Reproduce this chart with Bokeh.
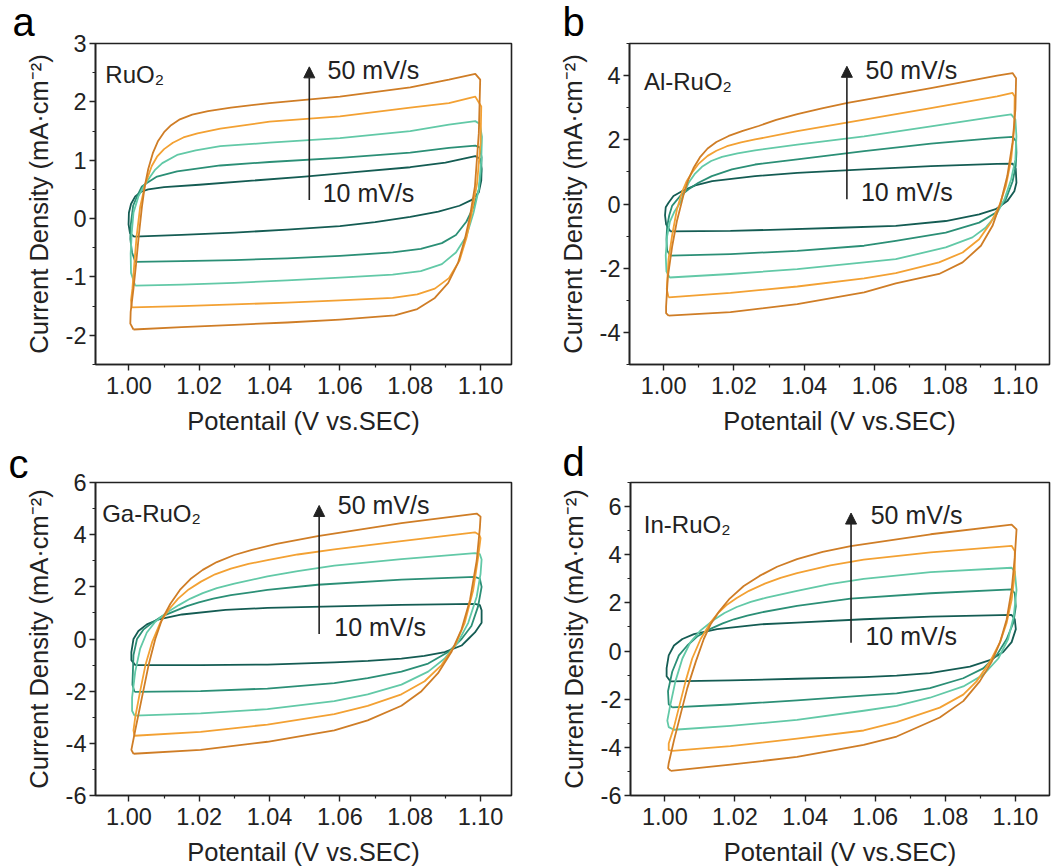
from bokeh.plotting import figure
from bokeh.layouts import column, row
from bokeh.models import Range1d, FixedTicker, Arrow, NormalHead, Label, ColumnDataSource
from bokeh.embed import file_html
from bokeh.resources import INLINE

FONT = "Liberation Sans"
INK = "#222222"

# ---------------- data ----------------
rates = ["10 mV/s", "20 mV/s", "30 mV/s", "40 mV/s", "50 mV/s"]
rate_colors = ["#145c53", "#2b8f76", "#62c9a7", "#f3a133", "#cf7d26"]

x_ticks = [1.00, 1.02, 1.04, 1.06, 1.08, 1.10]
x_tick_labels = ["1.00", "1.02", "1.04", "1.06", "1.08", "1.10"]
x_minor = [1.01, 1.03, 1.05, 1.07, 1.09]

a_yticks = [-2, -1, 0, 1, 2, 3]
a_yminor = [-2.5, -1.5, -0.5, 0.5, 1.5, 2.5]
b_yticks = [-4, -2, 0, 2, 4]
b_yminor = [-5, -3, -1, 1, 3, 5]
c_yticks = [-6, -4, -2, 0, 2, 4, 6]
c_yminor = [-5, -3, -1, 1, 3, 5]
d_yticks = [-6, -4, -2, 0, 2, 4, 6]
d_yminor = [-5, -3, -1, 1, 3, 5, 7]

# (potential V, current density mA/cm2), one closed loop per scan rate
a10 = [(1.0015,-0.31),(1.0003,-0.25),(0.9999,-0.10),(1.0000,0.10),(1.0006,0.25),(1.0018,0.38),(1.0035,0.46),(1.0055,0.50),(1.0100,0.54),(1.0200,0.58),(1.0350,0.65),(1.0500,0.72),(1.0650,0.80),(1.0800,0.88),(1.0900,0.96),(1.0985,1.07),(1.0998,1.03),(1.1003,0.85),(1.1002,0.65),(1.0995,0.45),(1.0975,0.32),(1.0940,0.22),(1.0880,0.12),(1.0800,0.03),(1.0700,-0.06),(1.0600,-0.13),(1.0450,-0.19),(1.0300,-0.24),(1.0150,-0.28),(1.0015,-0.31)]
a20 = [(1.0018,-0.74),(1.0009,-0.58),(1.0004,-0.35),(1.0005,-0.12),(1.0012,0.22),(1.0023,0.38),(1.0037,0.55),(1.0051,0.61),(1.0080,0.72),(1.0137,0.81),(1.0260,0.91),(1.0400,0.97),(1.0600,1.04),(1.0800,1.13),(1.0910,1.21),(1.0985,1.25),(1.0998,1.22),(1.1003,1.05),(1.1002,0.80),(1.0995,0.50),(1.0980,0.20),(1.0960,-0.05),(1.0930,-0.28),(1.0890,-0.42),(1.0830,-0.52),(1.0750,-0.58),(1.0600,-0.64),(1.0450,-0.68),(1.0300,-0.71),(1.0150,-0.73),(1.0018,-0.74)]
a30 = [(1.0018,-1.15),(1.0006,-0.93),(1.0005,-0.60),(1.0008,-0.25),(1.0013,0.10),(1.0027,0.38),(1.0042,0.55),(1.0061,0.72),(1.0075,0.84),(1.0095,0.95),(1.0137,1.09),(1.0190,1.17),(1.0260,1.24),(1.0400,1.30),(1.0600,1.38),(1.0800,1.50),(1.0910,1.61),(1.0985,1.67),(1.0998,1.62),(1.1004,1.40),(1.1002,1.00),(1.0995,0.50),(1.0980,0.10),(1.0960,-0.30),(1.0930,-0.58),(1.0890,-0.78),(1.0830,-0.90),(1.0750,-0.96),(1.0600,-1.01),(1.0450,-1.06),(1.0300,-1.10),(1.0150,-1.13),(1.0018,-1.15)]
a40 = [(1.0008,-1.52),(1.0006,-1.40),(1.0010,-1.20),(1.0015,-0.80),(1.0022,-0.30),(1.0032,0.20),(1.0047,0.60),(1.0065,0.90),(1.0080,1.06),(1.0100,1.19),(1.0125,1.30),(1.0155,1.39),(1.0195,1.46),(1.0260,1.54),(1.0400,1.66),(1.0600,1.75),(1.0800,1.90),(1.0910,1.98),(1.0985,2.09),(1.1002,1.92),(1.1000,1.30),(1.0990,0.60),(1.0975,0.10),(1.0960,-0.33),(1.0940,-0.72),(1.0910,-1.02),(1.0870,-1.20),(1.0820,-1.30),(1.0750,-1.36),(1.0600,-1.40),(1.0450,-1.44),(1.0300,-1.47),(1.0150,-1.50),(1.0008,-1.52)]
a50 = [(1.0013,-1.90),(1.0004,-1.80),(1.0005,-1.60),(1.0013,-1.20),(1.0020,-0.80),(1.0028,-0.30),(1.0037,0.20),(1.0045,0.55),(1.0055,0.85),(1.0068,1.12),(1.0083,1.33),(1.0100,1.48),(1.0120,1.60),(1.0145,1.70),(1.0180,1.78),(1.0225,1.84),(1.0290,1.90),(1.0400,1.98),(1.0600,2.09),(1.0800,2.25),(1.0910,2.38),(1.0985,2.48),(1.0999,2.38),(1.0995,1.46),(1.0984,0.55),(1.0970,0.04),(1.0955,-0.36),(1.0936,-0.76),(1.0908,-1.10),(1.0870,-1.36),(1.0820,-1.55),(1.0756,-1.66),(1.0600,-1.73),(1.0450,-1.78),(1.0300,-1.82),(1.0150,-1.86),(1.0013,-1.90)]

b10 = [(1.0019,-0.85),(1.0007,-0.63),(1.0004,-0.35),(1.0006,-0.10),(1.0014,0.04),(1.0028,0.25),(1.0052,0.40),(1.0090,0.58),(1.0138,0.71),(1.0260,0.87),(1.0380,0.97),(1.0570,1.08),(1.0760,1.18),(1.0948,1.25),(1.0992,1.26),(1.1001,1.10),(1.1003,0.66),(1.0997,0.40),(1.0977,0.09),(1.0944,-0.16),(1.0897,-0.32),(1.0802,-0.53),(1.0660,-0.68),(1.0500,-0.74),(1.0350,-0.79),(1.0190,-0.84),(1.0019,-0.85)]
b20 = [(1.0019,-1.61),(1.0010,-1.45),(1.0008,-1.10),(1.0010,-0.70),(1.0016,-0.35),(1.0024,-0.06),(1.0047,0.25),(1.0071,0.46),(1.0099,0.66),(1.0137,0.87),(1.0194,1.08),(1.0260,1.23),(1.0380,1.39),(1.0570,1.65),(1.0760,1.88),(1.0948,2.06),(1.0992,2.09),(1.1002,1.96),(1.1003,1.60),(1.1001,1.18),(1.0992,0.70),(1.0973,0.15),(1.0944,-0.27),(1.0897,-0.58),(1.0802,-0.89),(1.0660,-1.15),(1.0570,-1.30),(1.0380,-1.46),(1.0190,-1.56),(1.0019,-1.61)]
b30 = [(1.0017,-2.29),(1.0008,-2.10),(1.0006,-1.60),(1.0010,-1.00),(1.0018,-0.55),(1.0030,-0.25),(1.0047,0.04),(1.0058,0.35),(1.0071,0.66),(1.0088,0.93),(1.0109,1.16),(1.0135,1.34),(1.0166,1.47),(1.0210,1.58),(1.0260,1.67),(1.0380,1.85),(1.0570,2.11),(1.0760,2.42),(1.0948,2.73),(1.0988,2.79),(1.1000,2.63),(1.1003,2.11),(1.1000,1.39),(1.0988,0.77),(1.0969,0.15),(1.0944,-0.37),(1.0916,-0.73),(1.0878,-1.04),(1.0802,-1.35),(1.0660,-1.72),(1.0570,-1.82),(1.0380,-2.03),(1.0190,-2.18),(1.0017,-2.29)]
b40 = [(1.0014,-2.91),(1.0009,-2.65),(1.0014,-1.72),(1.0024,-0.99),(1.0038,-0.16),(1.0052,0.36),(1.0065,0.70),(1.0081,0.98),(1.0100,1.26),(1.0125,1.50),(1.0150,1.66),(1.0180,1.80),(1.0220,1.92),(1.0260,2.01),(1.0380,2.27),(1.0570,2.63),(1.0760,2.99),(1.0948,3.35),(1.0992,3.46),(1.0998,3.35),(1.0997,2.42),(1.0988,1.39),(1.0973,0.56),(1.0954,-0.06),(1.0930,-0.58),(1.0897,-1.10),(1.0850,-1.51),(1.0783,-1.82),(1.0660,-2.15),(1.0570,-2.32),(1.0380,-2.57),(1.0190,-2.77),(1.0014,-2.91)]
b50 = [(1.0014,-3.48),(1.0007,-3.40),(1.0007,-3.20),(1.0012,-2.27),(1.0024,-1.34),(1.0038,-0.52),(1.0057,0.30),(1.0070,0.75),(1.0085,1.12),(1.0103,1.45),(1.0125,1.73),(1.0150,1.93),(1.0185,2.12),(1.0225,2.28),(1.0270,2.43),(1.0320,2.62),(1.0380,2.80),(1.0450,2.98),(1.0523,3.15),(1.0760,3.61),(1.0948,4.00),(1.0992,4.08),(1.1002,3.92),(1.1000,2.94),(1.0992,1.91),(1.0977,0.87),(1.0958,0.04),(1.0935,-0.68),(1.0902,-1.30),(1.0850,-1.82),(1.0783,-2.18),(1.0660,-2.47),(1.0570,-2.75),(1.0380,-3.12),(1.0190,-3.37),(1.0014,-3.48)]

c10 = [(1.0018,-1.00),(1.0007,-0.81),(1.0007,-0.50),(1.0013,0.00),(1.0027,0.31),(1.0051,0.56),(1.0085,0.75),(1.0151,0.94),(1.0275,1.12),(1.0394,1.19),(1.0584,1.25),(1.0775,1.31),(1.0984,1.35),(1.0998,1.30),(1.1003,1.10),(1.1003,0.62),(1.0984,0.25),(1.0965,0.00),(1.0946,-0.25),(1.0898,-0.50),(1.0840,-0.65),(1.0775,-0.75),(1.0680,-0.84),(1.0584,-0.90),(1.0394,-0.98),(1.0204,-1.00),(1.0018,-1.00)]
c20 = [(1.0016,-2.03),(1.0010,-1.75),(1.0013,-0.62),(1.0023,0.00),(1.0042,0.37),(1.0066,0.62),(1.0094,0.87),(1.0132,1.08),(1.0165,1.26),(1.0199,1.40),(1.0240,1.55),(1.0290,1.68),(1.0394,1.88),(1.0537,2.08),(1.0775,2.28),(1.0984,2.38),(1.0998,2.31),(1.1003,2.00),(1.0993,1.25),(1.0974,0.50),(1.0946,0.00),(1.0908,-0.50),(1.0851,-0.94),(1.0775,-1.25),(1.0679,-1.50),(1.0584,-1.69),(1.0394,-1.90),(1.0204,-2.00),(1.0016,-2.03)]
c30 = [(1.0016,-2.94),(1.0009,-2.75),(1.0009,-2.25),(1.0018,-1.25),(1.0032,-0.37),(1.0051,0.25),(1.0075,0.66),(1.0104,0.98),(1.0142,1.30),(1.0175,1.55),(1.0210,1.76),(1.0250,1.95),(1.0300,2.12),(1.0394,2.40),(1.0480,2.60),(1.0584,2.81),(1.0775,3.06),(1.0984,3.29),(1.0998,3.25),(1.1003,3.05),(1.1000,2.50),(1.0989,1.62),(1.0965,0.62),(1.0936,-0.12),(1.0898,-0.75),(1.0851,-1.25),(1.0775,-1.75),(1.0679,-2.12),(1.0584,-2.38),(1.0394,-2.69),(1.0204,-2.85),(1.0016,-2.94)]
c40 = [(1.0016,-3.71),(1.0013,-3.50),(1.0018,-3.00),(1.0032,-2.00),(1.0047,-1.00),(1.0066,-0.12),(1.0089,0.62),(1.0113,1.12),(1.0140,1.55),(1.0170,1.90),(1.0205,2.20),(1.0245,2.48),(1.0290,2.70),(1.0340,2.88),(1.0394,3.02),(1.0480,3.24),(1.0584,3.44),(1.0775,3.75),(1.0984,4.09),(1.0996,4.00),(1.1000,3.87),(1.0993,3.12),(1.0979,1.87),(1.0955,0.62),(1.0927,-0.25),(1.0889,-1.00),(1.0841,-1.62),(1.0775,-2.12),(1.0679,-2.56),(1.0584,-2.88),(1.0394,-3.28),(1.0204,-3.56),(1.0016,-3.71)]
c50 = [(1.0013,-4.40),(1.0007,-4.25),(1.0018,-3.50),(1.0037,-2.25),(1.0056,-1.00),(1.0075,0.00),(1.0094,0.75),(1.0118,1.35),(1.0145,1.88),(1.0175,2.30),(1.0210,2.65),(1.0250,2.95),(1.0300,3.22),(1.0350,3.42),(1.0420,3.65),(1.0537,3.94),(1.0775,4.44),(1.0989,4.81),(1.1000,4.69),(1.0998,4.25),(1.0989,3.00),(1.0970,1.50),(1.0946,0.37),(1.0917,-0.50),(1.0879,-1.31),(1.0832,-2.00),(1.0775,-2.56),(1.0679,-3.12),(1.0584,-3.50),(1.0394,-3.94),(1.0204,-4.25),(1.0013,-4.40)]

d10 = [(1.0016,-1.26),(1.0005,-1.05),(1.0005,-0.71),(1.0011,-0.18),(1.0026,0.23),(1.0050,0.50),(1.0083,0.70),(1.0149,0.91),(1.0273,1.11),(1.0377,1.18),(1.0567,1.32),(1.0758,1.43),(1.0989,1.50),(1.0998,1.32),(1.1001,0.91),(1.0989,0.37),(1.0965,-0.04),(1.0927,-0.38),(1.0870,-0.65),(1.0756,-0.92),(1.0661,-1.02),(1.0567,-1.08),(1.0377,-1.15),(1.0187,-1.22),(1.0016,-1.26)]
d20 = [(1.0021,-2.34),(1.0011,-2.21),(1.0009,-1.67),(1.0021,-0.86),(1.0040,-0.18),(1.0064,0.23),(1.0092,0.60),(1.0130,0.92),(1.0165,1.15),(1.0197,1.32),(1.0235,1.47),(1.0273,1.60),(1.0377,1.88),(1.0530,2.18),(1.0758,2.40),(1.0989,2.56),(1.0998,2.40),(1.1001,1.86),(1.0994,1.18),(1.0975,0.50),(1.0946,-0.18),(1.0908,-0.72),(1.0851,-1.13),(1.0756,-1.54),(1.0661,-1.76),(1.0567,-1.85),(1.0377,-2.05),(1.0187,-2.22),(1.0021,-2.34)]
d30 = [(1.0026,-3.27),(1.0011,-3.16),(1.0007,-2.89),(1.0014,-2.35),(1.0030,-1.26),(1.0050,-0.31),(1.0073,0.37),(1.0102,0.86),(1.0140,1.30),(1.0170,1.58),(1.0205,1.83),(1.0245,2.04),(1.0290,2.22),(1.0377,2.50),(1.0470,2.78),(1.0567,3.00),(1.0758,3.28),(1.0989,3.46),(1.0998,3.30),(1.1003,2.54),(1.0995,1.45),(1.0979,0.50),(1.0951,-0.31),(1.0908,-0.99),(1.0851,-1.47),(1.0756,-1.94),(1.0661,-2.28),(1.0567,-2.48),(1.0377,-2.86),(1.0187,-3.11),(1.0026,-3.27)]
d40 = [(1.0021,-4.15),(1.0011,-4.11),(1.0011,-3.84),(1.0026,-3.16),(1.0040,-2.35),(1.0059,-1.26),(1.0078,-0.31),(1.0102,0.50),(1.0130,1.18),(1.0150,1.55),(1.0175,1.90),(1.0205,2.20),(1.0240,2.50),(1.0285,2.80),(1.0330,3.04),(1.0377,3.24),(1.0472,3.56),(1.0567,3.80),(1.0758,4.10),(1.0989,4.37),(1.0998,4.15),(1.0998,3.22),(1.0989,2.13),(1.0975,1.18),(1.0956,0.37),(1.0927,-0.45),(1.0889,-1.26),(1.0851,-1.81),(1.0784,-2.35),(1.0661,-2.95),(1.0567,-3.30),(1.0377,-3.64),(1.0187,-3.95),(1.0021,-4.15)]
d50 = [(1.0017,-4.98),(1.0009,-4.86),(1.0011,-4.66),(1.0026,-3.71),(1.0045,-2.62),(1.0064,-1.54),(1.0088,-0.45),(1.0111,0.50),(1.0130,1.10),(1.0155,1.65),(1.0185,2.18),(1.0225,2.70),(1.0270,3.12),(1.0320,3.50),(1.0377,3.82),(1.0450,4.12),(1.0530,4.36),(1.0758,4.85),(1.0989,5.25),(1.1003,5.05),(1.0998,3.89),(1.0989,2.54),(1.0975,1.32),(1.0956,0.37),(1.0932,-0.45),(1.0898,-1.26),(1.0851,-2.08),(1.0784,-2.76),(1.0661,-3.55),(1.0567,-3.90),(1.0377,-4.40),(1.0187,-4.72),(1.0017,-4.98)]

x_label = "Potentail (V vs.SEC)"
y_label = "Current Density (mA\u00b7cm\u207b\u00b2)"


def panel(curves, xlim, ylim, yticks, yminor, size, borders,
          letter, letter_shift, letter_standoff, name, name_xy, arrow, t50_xy, t10_xy):
    w, h = size
    bl, br, bt, bb = borders
    p = figure(width=w, height=h, output_backend="svg", toolbar_location=None,
               x_range=Range1d(*xlim), y_range=Range1d(*ylim),
               min_border_left=bl, min_border_right=br,
               min_border_top=bt, min_border_bottom=bb)
    p.xgrid.visible = False
    p.ygrid.visible = False
    p.background_fill_color = "white"
    p.border_fill_color = "white"
    p.outline_line_color = INK
    p.outline_line_width = 1.6

    p.title.text = letter
    p.title.align = "left"
    p.title.vertical_align = "top"
    p.title.offset = letter_shift
    p.title.standoff = letter_standoff
    p.title.text_font = FONT
    p.title.text_font_size = "40px"
    p.title.text_font_style = "normal"
    p.title.text_color = "black"

    for ax in (p.xaxis[0], p.yaxis[0]):
        ax.axis_line_color = INK
        ax.axis_line_width = 1.6
        ax.major_tick_line_color = INK
        ax.minor_tick_line_color = INK
        ax.major_tick_line_width = 1.4
        ax.minor_tick_line_width = 1.2
        ax.major_tick_in = 0
        ax.major_tick_out = 6
        ax.minor_tick_in = 0
        ax.minor_tick_out = 3
        ax.major_label_text_font = FONT
        ax.major_label_text_font_size = "23.5px"
        ax.major_label_text_color = INK
        ax.axis_label_text_font = FONT
        ax.axis_label_text_font_size = "25.5px"
        ax.axis_label_text_font_style = "normal"
        ax.axis_label_text_color = INK

    p.xaxis.ticker = FixedTicker(ticks=x_ticks, minor_ticks=x_minor)
    p.xaxis.major_label_overrides = {t: s for t, s in zip(x_ticks, x_tick_labels)}
    p.xaxis.axis_label = x_label
    p.xaxis.major_label_standoff = 6
    p.xaxis.axis_label_standoff = 10

    p.yaxis.ticker = FixedTicker(ticks=yticks, minor_ticks=yminor)
    p.yaxis.major_label_overrides = {t: str(t) for t in yticks}
    p.yaxis.axis_label = y_label
    p.yaxis.major_label_standoff = 3
    p.yaxis.axis_label_standoff = 10

    for pts, col in zip(curves, rate_colors):
        src = ColumnDataSource(dict(v=[q[0] for q in pts], j=[q[1] for q in pts]))
        p.line("v", "j", source=src, line_color=col, line_width=1.8, line_join="round")

    p.add_layout(Arrow(end=NormalHead(size=11, fill_color=INK, line_color=INK, line_width=1),
                       x_start=arrow[0], y_start=arrow[1], x_end=arrow[0], y_end=arrow[2],
                       line_color=INK, line_width=1.6))

    p.add_layout(Label(x=t50_xy[0], y=t50_xy[1], text=rates[4], text_font=FONT,
                       text_font_size="25px", text_color=INK, text_baseline="middle"))
    p.add_layout(Label(x=t10_xy[0], y=t10_xy[1], text=rates[0], text_font=FONT,
                       text_font_size="25px", text_color=INK, text_baseline="middle"))
    p.add_layout(Label(x=name_xy[0], y=name_xy[1], text=name, text_font=FONT,
                       text_font_size="24px", text_color=INK, text_baseline="alphabetic"))
    return p


pa = panel([a10, a20, a30, a40, a50], (0.9905, 1.1088), (-2.5, 3), a_yticks, a_yminor,
           (530, 440), (95, 19, 43, 76),
           "a", -83, -5, "RuO\u2082", (0.9933, 2.475),
           (1.0513, 0.32, 2.60), (1.0565, 2.55), (1.0551, 0.44))
pb = panel([b10, b20, b30, b40, b50], (0.9903, 1.1097), (-5, 5), b_yticks, b_yminor,
           (529, 440), (99, 10, 43, 74),
           "b", -67, -5, "Al-RuO\u2082", (0.9944, 3.82),
           (1.0521, 0.15, 4.29), (1.0574, 4.18), (1.0561, 0.37))
pc = panel([c10, c20, c30, c40, c50], (0.9905, 1.1088), (-6, 6), c_yticks, c_yminor,
           (530, 428), (95, 19, 40, 68),
           "c", -87, -10, "Ga-RuO\u2082", (0.9924, 4.81),
           (1.0541, 0.19, 5.12), (1.0594, 5.12), (1.0584, 0.47))
pd = panel([d10, d20, d30, d40, d50], (0.9902, 1.1097), (-6, 7), d_yticks, d_yminor,
           (529, 428), (100, 10, 42, 68),
           "d", -68, -7, "In-RuO\u2082", (0.9940, 5.25),
           (1.0531, 0.34, 5.73), (1.0587, 5.66), (1.0572, 0.64))

layout = column(row(pa, pb), row(pc, pd))
open("out.html", "w").write(file_html(layout, INLINE))
